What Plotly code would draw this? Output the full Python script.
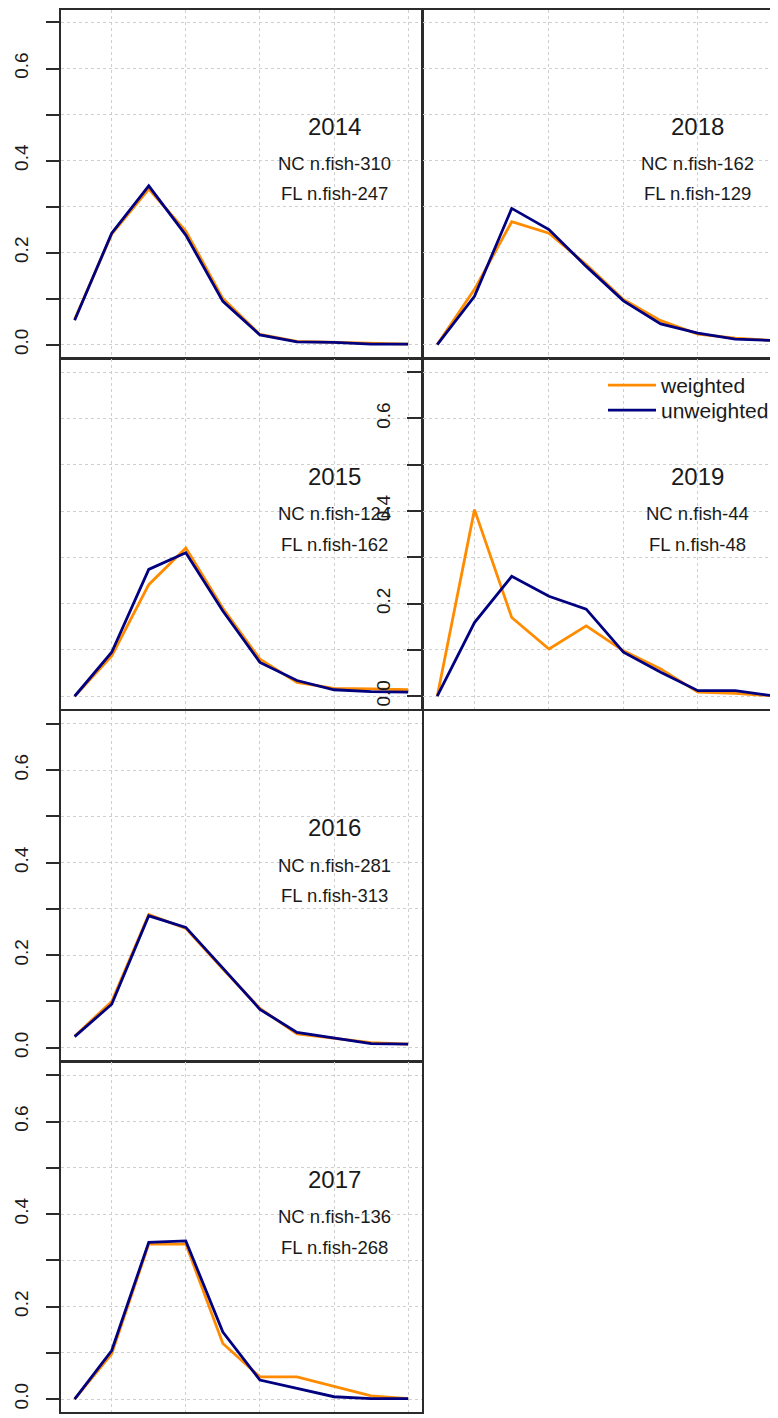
import plotly.graph_objects as go

# ---------------- data ----------------
length_bins = [1, 2, 3, 4, 5, 6, 7, 8, 9, 10]
years = ["2014", "2015", "2016", "2017", "2018", "2019"]
nc_fish = [310, 124, 281, 136, 162, 44]
fl_fish = [247, 162, 313, 268, 129, 48]

weighted_2014 = [0.055, 0.240, 0.338, 0.247, 0.100, 0.022, 0.007, 0.005, 0.002, 0.001]
unweighted_2014 = [0.053, 0.242, 0.345, 0.238, 0.094, 0.021, 0.006, 0.005, 0.001, 0.001]
weighted_2015 = [0.0, 0.087, 0.241, 0.320, 0.190, 0.080, 0.030, 0.017, 0.016, 0.014]
unweighted_2015 = [0.0, 0.095, 0.274, 0.310, 0.184, 0.073, 0.034, 0.014, 0.010, 0.009]
weighted_2016 = [0.025, 0.100, 0.288, 0.258, 0.170, 0.085, 0.030, 0.020, 0.011, 0.008]
unweighted_2016 = [0.024, 0.094, 0.285, 0.260, 0.172, 0.083, 0.033, 0.021, 0.009, 0.008]
weighted_2017 = [0.0, 0.098, 0.335, 0.335, 0.120, 0.048, 0.048, 0.027, 0.007, 0.001]
unweighted_2017 = [0.0, 0.105, 0.339, 0.342, 0.145, 0.041, 0.023, 0.005, 0.001, 0.001]
weighted_2018 = [0.0, 0.120, 0.267, 0.242, 0.174, 0.098, 0.052, 0.023, 0.014, 0.009]
unweighted_2018 = [0.0, 0.105, 0.296, 0.250, 0.170, 0.095, 0.045, 0.025, 0.012, 0.009]
weighted_2019 = [0.0, 0.403, 0.170, 0.102, 0.152, 0.098, 0.059, 0.009, 0.006, 0.001]
unweighted_2019 = [0.0, 0.159, 0.259, 0.216, 0.188, 0.095, 0.052, 0.012, 0.012, 0.001]

weighted = [weighted_2014, weighted_2015, weighted_2016, weighted_2017, weighted_2018, weighted_2019]
unweighted = [unweighted_2014, unweighted_2015, unweighted_2016, unweighted_2017, unweighted_2018, unweighted_2019]

y_tickvals = [0.0, 0.1, 0.2, 0.3, 0.4, 0.5, 0.6, 0.7]
y_ticktext = ["0.0", "", "0.2", "", "0.4", "", "0.6", ""]
x_gridvals = [2, 4, 6, 8, 10]

# ---------------- layout geometry (figure pixels; page adds an 8px body margin) ----------------
W, H = 770, 1410
LW = 1.6
col_px = [(53.3, 413.5), (415.1, 770.0)]
col_xrange = [(0.64, 10.36), (0.62, 10.15)]
row_px = [(1.6, 349.5), (351.1, 701.2), (702.8, 1052.7), (1054.3, 1404.0)]
y_range = [-0.028, 0.728]

# panel placement: (column, row, show y-axis labels)
placement = [(0, 0, True), (0, 1, False), (0, 2, True), (0, 3, True), (1, 0, False), (1, 1, True)]

ORANGE = "#FF8C00"
NAVY = "#000080"
FONT = "Liberation Sans, Arial, sans-serif"
TXT = "#1a1a1a"
LINE = "#2b2b2b"
GRID = "#cfcfcf"

leg_common = dict(xanchor="left", yanchor="top", bgcolor="rgba(0,0,0,0)", borderwidth=0,
                  font=dict(size=21, family=FONT, color=TXT), itemwidth=48)

fig = go.Figure()
layout = dict(
    width=W, height=H,
    margin=dict(l=0, r=0, t=0, b=0),
    paper_bgcolor="white", plot_bgcolor="rgba(0,0,0,0)",
    font=dict(family=FONT, color=TXT),
    showlegend=True,
    legend=dict(x=595 / W, y=1 - 357 / H, **leg_common),
    legend2=dict(x=595 / W, y=1 - 382 / H, **leg_common),
    annotations=[],
)

for i, year in enumerate(years):
    col, row, show_y = placement[i]
    n = i + 1
    xs = "" if n == 1 else str(n)
    xa, ya = "xaxis" + xs, "yaxis" + xs
    x0, x1 = col_px[col]
    top, bot = row_px[row]
    layout[xa] = dict(
        domain=[x0 / W, x1 / W], range=list(col_xrange[col]), anchor="y" + xs,
        tickvals=x_gridvals, showticklabels=False, ticks="",
        showgrid=True, gridcolor=GRID, griddash="dot", gridwidth=1,
        zeroline=False, showline=True, linecolor=LINE, linewidth=LW, mirror=True,
    )
    layout[ya] = dict(
        domain=[1 - bot / H, 1 - top / H], range=y_range, anchor="x" + xs,
        tickvals=y_tickvals, ticktext=y_ticktext,
        showticklabels=show_y, ticks="outside" if show_y else "",
        ticklen=14, tickwidth=1.5, tickcolor=LINE, tickangle=-90,
        ticklabelstandoff=10,
        tickfont=dict(size=19, family=FONT, color=TXT),
        showgrid=True, gridcolor=GRID, griddash="dot", gridwidth=1,
        zeroline=False, showline=True, linecolor=LINE, linewidth=LW,
        mirror=(col == 0),
    )
    fig.add_trace(go.Scatter(
        x=length_bins, y=weighted[i], mode="lines", name="weighted",
        line=dict(color=ORANGE, width=2.8), xaxis="x" + xs, yaxis="y" + xs,
        showlegend=(i == 0), legend="legend",
    ))
    fig.add_trace(go.Scatter(
        x=length_bins, y=unweighted[i], mode="lines", name="unweighted",
        line=dict(color=NAVY, width=2.8), xaxis="x" + xs, yaxis="y" + xs,
        showlegend=(i == 0), legend="legend2",
    ))
    layout["annotations"] += [
        dict(x=8, y=0.475, xref="x" + xs, yref="y" + xs, text=year, showarrow=False,
             font=dict(size=24, family=FONT, color=TXT), xanchor="center", yanchor="middle"),
        dict(x=8, y=0.394, xref="x" + xs, yref="y" + xs, text=f"NC n.fish-{nc_fish[i]}",
             showarrow=False, font=dict(size=18.5, family=FONT, color=TXT),
             xanchor="center", yanchor="middle"),
        dict(x=8, y=0.328, xref="x" + xs, yref="y" + xs, text=f"FL n.fish-{fl_fish[i]}",
             showarrow=False, font=dict(size=18.5, family=FONT, color=TXT),
             xanchor="center", yanchor="middle"),
    ]

fig.update_layout(**layout)
fig.write_html("out.html")
